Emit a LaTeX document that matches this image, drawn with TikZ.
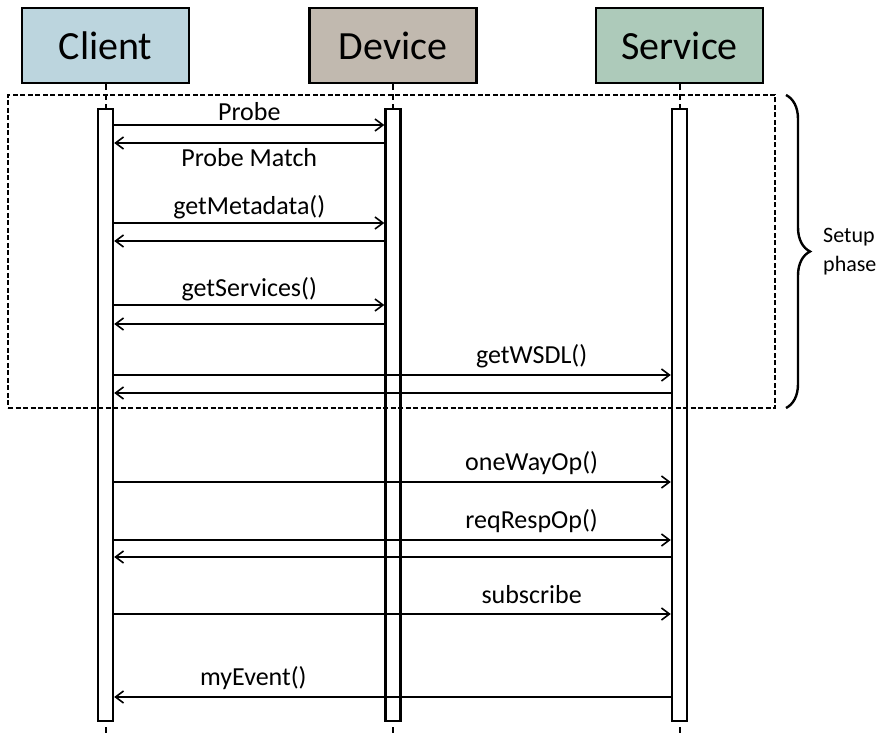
\documentclass[tikz,border=0pt]{standalone}
\usepackage{fontspec}
\setmainfont{Carlito}
\usetikzlibrary{arrows.meta,decorations.pathreplacing}
\definecolor{clientc}{RGB}{188,213,222}
\definecolor{devicec}{RGB}{193,185,175}
\definecolor{servicec}{RGB}{173,202,186}
\tikzset{
  actor/.style={draw=black,line width=2.8pt,minimum width=167pt,minimum height=75pt,inner sep=0pt,font=\fontsize{40}{42}\selectfont},
  actbar/.style={draw=black,fill=white,line width=2.4pt,minimum width=15pt,minimum height=612pt,inner sep=0pt},
  lifeline/.style={line width=2pt,dash pattern=on 6pt off 4pt},
  msg/.style={line width=1.6pt,-{Straight Barb[length=8pt,width=12pt,line width=1.6pt]}},
  lbl/.style={font=\fontsize{26}{28}\selectfont,inner sep=0pt},
  setupbox/.style={line width=1.2pt,dash pattern=on 5pt off 2.5pt},
}
\begin{document}
\begin{tikzpicture}[x=1pt,y=-1pt]
\useasboundingbox (0,0) rectangle (891,735);
% actors
\node[actor,fill=clientc] (client) at (105.5,45.5) {Client};
\node[actor,fill=devicec] (device) at (393,45.5) {Device};
\node[actor,fill=servicec] (service) at (679.5,45.5) {Service};
% activation bars
\node[actbar] (cbar) at (105.5,415) {};
\node[actbar] (dbar) at (393,415) {};
\node[actbar] (sbar) at (679.5,415) {};
\coordinate (cend) at (105.5,736);
\coordinate (dend) at (393,736);
\coordinate (send) at (679.5,736);
% lifelines
\draw[lifeline] (client.south) -- (cbar.north);
\draw[lifeline] (device.south) -- (dbar.north);
\draw[lifeline] (service.south) -- (sbar.north);
\draw[lifeline] (cbar.south) ++(0,5) -- (cend);
\draw[lifeline] (dbar.south) ++(0,5) -- (dend);
\draw[lifeline] (sbar.south) ++(0,5) -- (send);
% setup phase box
\node[setupbox,draw,minimum width=767pt,minimum height=313pt,inner sep=0pt] (setup) at (391.5,251.5) {};
% brace
\draw[line width=2.4pt,decorate,decoration={brace,amplitude=24pt,aspect=0.5}] (786,95) -- (786,408) node[midway,right=36pt,align=left,inner sep=0pt,font=\fontsize{22}{29}\selectfont] (setuplbl) {Setup\\phase};
% messages
\draw[msg] (cbar.east |- 0,125) -- node[lbl,pos=0.5,yshift=13pt] (m1) {Probe} (dbar.west |- 0,125);
\draw[msg] (dbar.west |- 0,143) -- node[lbl,pos=0.5,yshift=-15pt] (m2) {Probe Match} (cbar.east |- 0,143);
\draw[msg] (cbar.east |- 0,223) -- node[lbl,pos=0.5,yshift=16pt] (m3) {getMetadata()} (dbar.west |- 0,223);
\draw[msg] (dbar.west |- 0,241) -- (cbar.east |- 0,241);
\draw[msg] (cbar.east |- 0,305) -- node[lbl,pos=0.5,yshift=16pt] (m4) {getServices()} (dbar.west |- 0,305);
\draw[msg] (dbar.west |- 0,324) -- (cbar.east |- 0,324);
\draw[msg] (cbar.east |- 0,375) -- node[lbl,pos=0.75,yshift=19pt] (m5) {getWSDL()} (sbar.west |- 0,375);
\draw[msg] (sbar.west |- 0,393) -- (cbar.east |- 0,393);
\draw[msg] (cbar.east |- 0,482) -- node[lbl,pos=0.75,yshift=19pt] (m6) {oneWayOp()} (sbar.west |- 0,482);
\draw[msg] (cbar.east |- 0,540) -- node[lbl,pos=0.75,yshift=19pt] (m7) {reqRespOp()} (sbar.west |- 0,540);
\draw[msg] (sbar.west |- 0,557) -- (cbar.east |- 0,557);
\draw[msg] (cbar.east |- 0,614) -- node[lbl,pos=0.75,yshift=19pt] (m8) {subscribe} (sbar.west |- 0,614);
\draw[msg] (sbar.west |- 0,697) -- node[lbl,pos=0.75,yshift=19pt] (m9) {myEvent()} (cbar.east |- 0,697);
\end{tikzpicture}
\end{document}
